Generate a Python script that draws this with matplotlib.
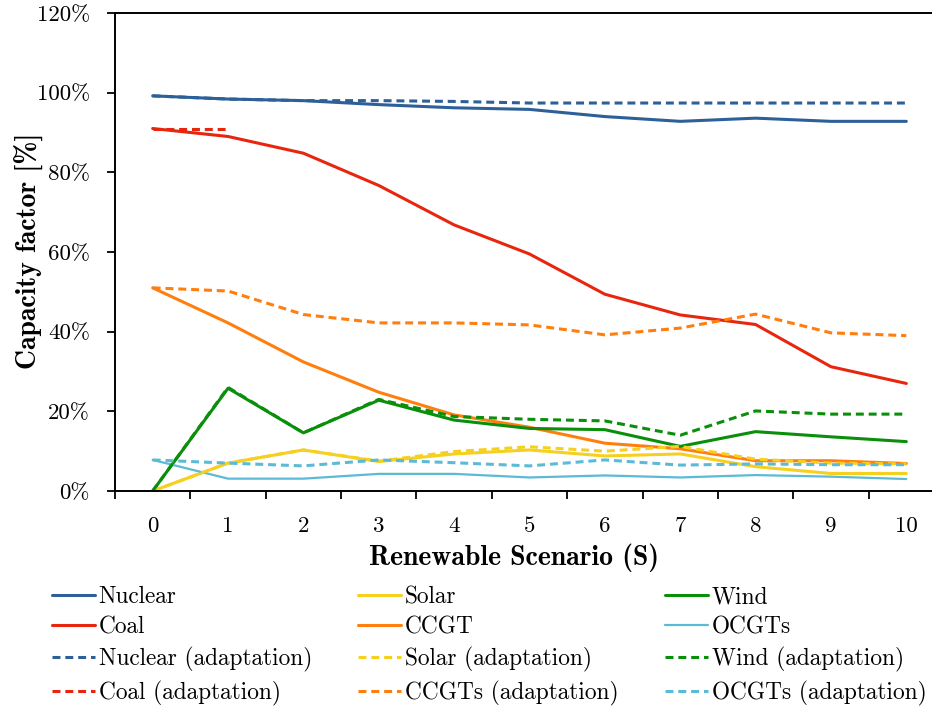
import numpy as np
import matplotlib
matplotlib.use('Agg')
import matplotlib.pyplot as plt

plt.rcParams['font.family'] = ['cmr10', 'DejaVu Serif']
plt.rcParams['axes.formatter.use_mathtext'] = True

## Data: capacity factor [%] per renewable scenario
scenarios = list(range(11))

nuclear = [99.2, 98.4, 98.0, 97.0, 96.2, 95.8, 94.0, 92.8, 93.6, 92.8, 92.8]
coal = [91.0, 89.0, 84.8, 76.7, 66.8, 59.5, 49.4, 44.2, 41.8, 31.2, 27.0]
solar = [0.0, 7.0, 10.3, 7.4, 9.3, 10.3, 8.8, 9.3, 6.1, 4.4, 4.4]
ccgt = [51.0, 42.2, 32.4, 24.8, 19.1, 16.0, 12.0, 10.6, 7.6, 7.6, 6.9]
wind = [0.0, 25.8, 14.6, 22.8, 17.8, 15.7, 15.4, 11.2, 14.9, 13.6, 12.4]
ocgt = [7.8, 3.1, 3.1, 4.3, 4.3, 3.4, 3.9, 3.4, 4.0, 3.6, 3.0]

nuclear_ad = [99.2, 98.4, 98.0, 98.0, 97.8, 97.4, 97.4, 97.4, 97.4, 97.4, 97.4]
coal_ad = [91.0, 91.0]
solar_ad = [0.0, 7.0, 10.3, 7.5, 9.9, 11.1, 10.0, 11.2, 8.0, 7.0, 6.8]
ccgt_ad = [51.0, 50.2, 44.3, 42.2, 42.2, 41.7, 39.2, 40.9, 44.4, 39.7, 39.0]
wind_ad = [0.0, 26.0, 14.6, 23.0, 18.7, 18.0, 17.6, 14.0, 20.1, 19.3, 19.3]
ocgt_ad = [7.8, 7.0, 6.3, 7.8, 7.1, 6.3, 7.8, 6.5, 6.8, 6.6, 6.6]

## Styles
c_nuc = '#2d6098'
c_coal = '#e8260e'
c_sol = '#f6d01f'
c_ccgt = '#ff7f0e'
c_wind = '#098f0a'
c_ocgt = '#5bbad6'
LW = 2.2
DASH = (2.6, 1.6)
FS = 16.5      # tick labels
FS_LEG = 16.8  # legend entries
FS_LAB = 20    # bold axis titles

fig = plt.figure(figsize=(9.32, 7.09), dpi=100)
ax = fig.add_axes([115/932, 1 - 491/709, (944 - 115)/932, (491 - 13)/709])

solid = [(nuclear, c_nuc, 'Nuclear', LW), (coal, c_coal, 'Coal', LW),
         (solar, c_sol, 'Solar', LW), (ccgt, c_ccgt, 'CCGT', LW),
         (wind, c_wind, 'Wind', LW), (ocgt, c_ocgt, 'OCGTs', 1.6)]
dashed = [(nuclear_ad, c_nuc, 'Nuclear (adaptation)', LW), (coal_ad, c_coal, 'Coal (adaptation)', LW),
          (solar_ad, c_sol, 'Solar (adaptation)', LW), (ccgt_ad, c_ccgt, 'CCGTs (adaptation)', LW),
          (wind_ad, c_wind, 'Wind (adaptation)', LW), (ocgt_ad, c_ocgt, 'OCGTs (adaptation)', LW)]

h = {}
for vals, col, lab, lw in solid:
    h[lab], = ax.plot(scenarios[:len(vals)], vals, color=col, lw=lw, label=lab,
                      solid_capstyle='round', solid_joinstyle='round')
for vals, col, lab, lw in dashed:
    h[lab], = ax.plot(scenarios[:len(vals)], vals, color=col, lw=lw, label=lab,
                      dashes=DASH, dash_capstyle='butt')

ax.set_xlim(-0.5, 10.5)
ax.set_ylim(0, 120)
ax.set_yticks(np.arange(0, 121, 20))
ax.set_yticklabels(['%d%%' % v for v in range(0, 121, 20)], fontsize=FS)
# category axis: ticks between scenarios, labels centred on them
ax.set_xticks(np.arange(-0.5, 10.6, 1))
ax.set_xticklabels([])
ax.set_xticks(scenarios, minor=True)
ax.set_xticklabels([str(s) for s in scenarios], minor=True, fontsize=FS)
ax.tick_params(axis='x', which='major', direction='out', length=6, width=1.3)
ax.tick_params(axis='x', which='minor', length=0, pad=18)
ax.tick_params(axis='y', direction='out', length=6, width=1.3, pad=12)
for s in ['left', 'bottom', 'top']:
    ax.spines[s].set_linewidth(1.4)
ax.spines['right'].set_visible(False)

fig.text(28/932, 1 - 251/709, 'Capacity factor [%]', rotation=90, ha='center', va='center',
         fontsize=FS_LAB, family='cmb10')
fig.text(514/932, 1 - 558/709, 'Renewable Scenario (S)', ha='center', va='center',
         fontsize=FS_LAB, family='cmb10')

## Legend: three columns below the plot
columns = [['Nuclear', 'Coal', 'Nuclear (adaptation)', 'Coal (adaptation)'],
           ['Solar', 'CCGT', 'Solar (adaptation)', 'CCGTs (adaptation)'],
           ['Wind', 'OCGTs', 'Wind (adaptation)', 'OCGTs (adaptation)']]
col_x = [52, 358, 665]
for labs, x0 in zip(columns, col_x):
    fig.legend([h[l] for l in labs], labs, loc='upper left',
               bbox_to_anchor=(x0/932, 1 - 586/709), frameon=False, fontsize=FS_LEG,
               handlelength=1.85, handletextpad=0.15, labelspacing=0.36,
               borderpad=0, borderaxespad=0)

fig.savefig('out.png', dpi=100)
